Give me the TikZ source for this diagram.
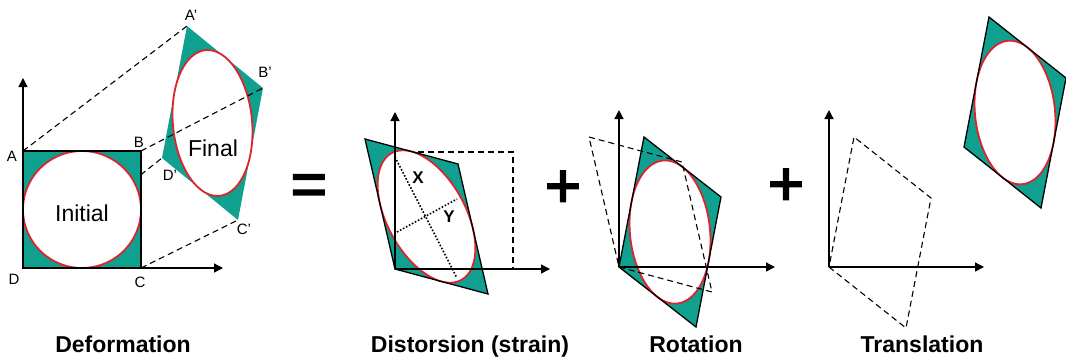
\documentclass[tikz,border=0pt]{standalone}
\usepackage{fontspec}
\setmainfont{Liberation Sans}
\newfontfamily\signfont[FakeBold=3]{Liberation Sans}
\usepackage{tikz}
\usetikzlibrary{arrows.meta}
\definecolor{grainfill}{RGB}{16,160,144}
\definecolor{rimred}{RGB}{222,35,45}

% corners of a grain: prefix, origin, edge along x, edge along y
\newcommand{\grainpts}[7]{%
  \coordinate (#1D) at (#2,#3);
  \coordinate (#1C) at ({#2+(#4)},{#3+(#5)});
  \coordinate (#1A) at ({#2+(#6)},{#3+(#7)});
  \coordinate (#1B) at ({#2+(#4)+(#6)},{#3+(#5)+(#7)});
}
% filled grain with its inscribed ellipse
\newcommand{\grain}[7]{%
  \grainpts{#1}{#2}{#3}{#4}{#5}{#6}{#7}
  \fill[grainfill] (#1D) -- (#1C) -- (#1B) -- (#1A) -- cycle;
  \fill[white] plot[domain=0:360,samples=121]
    ({#2+((#4)+(#6))/2+(#4)/2*cos(\x)+(#6)/2*sin(\x)},
     {#3+((#5)+(#7))/2+(#5)/2*cos(\x)+(#7)/2*sin(\x)}) -- cycle;
  \draw[rim] plot[domain=0:360,samples=121]
    ({#2+((#4)+(#6))/2+(#4)/2*cos(\x)+(#6)/2*sin(\x)},
     {#3+((#5)+(#7))/2+(#5)/2*cos(\x)+(#7)/2*sin(\x)}) -- cycle;
}

\begin{document}
\begin{tikzpicture}[
  x=1pt, y=-1pt,
  axis/.style={-{Triangle[length=9pt,width=9pt]}, line width=1.3pt},
  outline/.style={line width=1.3pt, line join=miter},
  rim/.style={rimred, line width=1.8pt},
  link/.style={line width=1.1pt, dash pattern=on 6pt off 4pt},
  axisdot/.style={line width=1.6pt, dash pattern=on 1.6pt off 1.8pt},
  corner/.style={font=\fontsize{15}{18}\selectfont, inner sep=0pt},
  grainlbl/.style={font=\fontsize{23}{27}\selectfont, inner sep=0pt},
  axislbl/.style={font=\fontsize{17}{20}\selectfont\bfseries, inner sep=0pt},
  sign/.style={font=\fontsize{62}{70}\signfont, inner sep=0pt},
  title/.style={font=\fontsize{23}{27}\selectfont\bfseries, anchor=base},
]
\useasboundingbox (0,0) rectangle (1066,360);

% Deformation
\grainpts{i}{23}{268}{118}{0}{0}{-117}
\grain{f}{162}{158}{76}{62}{25}{-132}
\draw[link] (iA) -- (fA);
\draw[link] (iB) -- (fB);
\draw[link] (iC) -- (fC);
\draw[link] (iD) -- (fD);
\grain{i}{23}{268}{118}{0}{0}{-117}
\draw[line width=2.4pt] (iD) -- (iC) -- (iB) -- (iA) -- cycle;
\coordinate (o1) at (23,268);
\coordinate (x1) at (223,268);
\coordinate (y1) at (23,78);
\draw[axis] (o1) -- (x1);
\draw[axis] (o1) -- (y1);
\node[corner] (lA) at (12,156) {A};
\node[corner] (lB) at (139,142) {B};
\node[corner] (lC) at (140,282) {C};
\node[corner] (lD) at (14,279) {D};
\node[corner] (lA') at (191,15) {A'};
\node[corner] (lB') at (265,72) {B'};
\node[corner] (lC') at (244,229) {C'};
\node[corner] (lD') at (170,175) {D'};
\node[grainlbl] (initial) at (82,213) {Initial};
\node[grainlbl] (final) at (213,148) {Final};

\node[sign] (equal) at (309,190) {=};

% Distorsion
\coordinate (o2) at (395,269);
\coordinate (x2) at (550,269);
\coordinate (y2) at (395,112);
\coordinate (sq2) at (513,152);
\draw[link] (o2) rectangle (sq2);
\grain{d}{395}{269}{93}{25}{-30}{-130}
\draw[outline] (dD) -- (dC) -- (dB) -- (dA) -- cycle;
\coordinate (Xa) at (395,157);
\coordinate (Xb) at (457,278);
\coordinate (Ya) at (397,232);
\coordinate (Yb) at (457,199);
\draw[axisdot] (Xa) -- (Xb);
\draw[axisdot] (Ya) -- (Yb);
\draw[axis] (o2) -- (x2);
\draw[axis] (o2) -- (y2);
\node[axislbl] (lX) at (418,178) {X};
\node[axislbl] (lY) at (449,217) {Y};

\node[sign] (plusA) at (563,189) {+};

% Rotation
\coordinate (o3) at (619,267);
\coordinate (x3) at (775,267);
\coordinate (y3) at (619,110);
\grain{r}{619}{267}{77}{60}{25}{-130}
\draw[outline] (rD) -- (rC) -- (rB) -- (rA) -- cycle;
\grainpts{s}{619}{267}{93}{25}{-30}{-130}
\draw[link] (sD) -- (sC) -- (sB) -- (sA) -- cycle;
\draw[axis] (o3) -- (x3);
\draw[axis] (o3) -- (y3);

\node[sign] (plusB) at (786,187) {+};

% Translation
\coordinate (o4) at (829,267);
\coordinate (x4) at (984,267);
\coordinate (y4) at (829,110);
\grainpts{p}{829}{267}{77}{61}{25}{-130}
\draw[link] (pD) -- (pC) -- (pB) -- (pA) -- cycle;
\draw[axis] (o4) -- (x4);
\draw[axis] (o4) -- (y4);
\grain{t}{964}{147}{77}{61}{25}{-130}
\draw[outline] (tD) -- (tC) -- (tB) -- (tA) -- cycle;

% Labels
\node[title] (tDef) at (123,352) {Deformation};
\node[title] (tDis) at (470,352) {Distorsion (strain)};
\node[title] (tRot) at (696,352) {Rotation};
\node[title] (tTra) at (922,352) {Translation};
\end{tikzpicture}
\end{document}
